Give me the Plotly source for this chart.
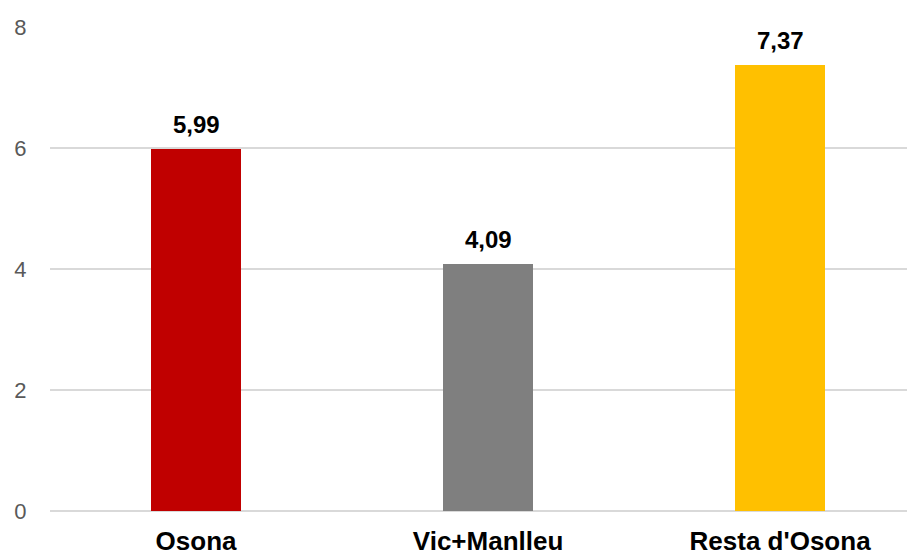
import plotly.graph_objects as go

categorias = ["Osona", "Vic+Manlleu", "Resta d'Osona"]
valores = [5.99, 4.09, 7.37]
etiquetas = ["5,99", "4,09", "7,37"]
colores = ["#C00000", "#7F7F7F", "#FFC000"]

fig = go.Figure()

fig.add_trace(go.Bar(
    x=categorias,
    y=valores,
    width=0.308,
    marker=dict(color=colores, line=dict(width=0)),
    hoverinfo="skip",
))

# etiquetas de datos encima de cada barra
for cat, val, txt in zip(categorias, valores, etiquetas):
    fig.add_annotation(
        x=cat, y=val, text=f"<b>{txt}</b>", showarrow=False,
        yanchor="bottom", yshift=9,
        font=dict(family="Liberation Sans, Arial", size=24, color="#000000"),
    )

# el body de la página tiene un margen de 8 px, se compensa aquí
fig.update_layout(
    width=907,
    height=548,
    margin=dict(l=42, r=0, t=19, b=45),
    paper_bgcolor="white",
    plot_bgcolor="white",
    showlegend=False,
    font=dict(family="Liberation Sans, Arial"),
    bargap=0,
)

fig.update_xaxes(
    range=[-0.5, 2.462],
    automargin=False,
    showgrid=False,
    showline=False,
    zeroline=False,
    ticks="outside",
    ticklen=7,
    tickcolor="rgba(0,0,0,0)",
    tickvals=categorias,
    ticktext=[f"<b>{c}</b>" for c in categorias],
    tickfont=dict(family="Liberation Sans, Arial", size=26, color="#000000"),
)

fig.update_yaxes(
    range=[0, 8],
    dtick=2,
    automargin=False,
    showgrid=True,
    gridcolor="#D9D9D9",
    gridwidth=2,
    zeroline=True,
    zerolinecolor="#D9D9D9",
    zerolinewidth=2,
    showline=False,
    ticks="outside",
    ticklen=18,
    tickcolor="rgba(0,0,0,0)",
    tickfont=dict(family="Liberation Sans, Arial", size=22, color="#595959"),
)

fig.write_html("out.html")
